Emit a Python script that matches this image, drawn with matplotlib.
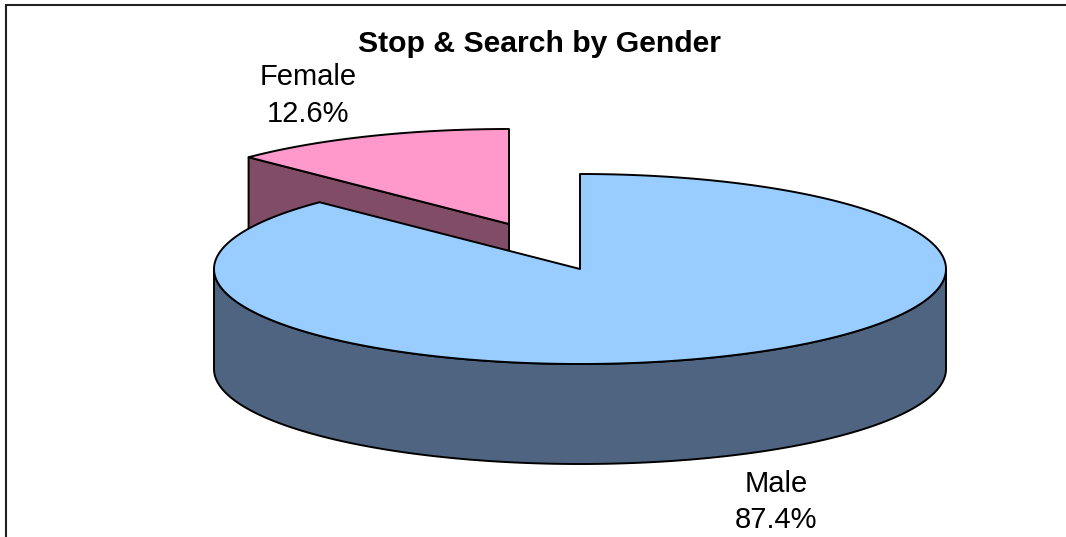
import numpy as np
import matplotlib
matplotlib.use('Agg')
import matplotlib.pyplot as plt

plt.rcParams['font.family'] = ['Liberation Sans', 'DejaVu Sans']

# donnees
categories = ['Male', 'Female']
shares = [87.4, 12.6]
title = 'Stop & Search by Gender'

W, H = 1066, 537
rx, ry = 366, 95
depth = 100
male_c = (580, 269)
female_c = (509, 224)
ec = '#000000'
lw = 1.4


def arc(c, a0, a1, n=200, dy=0):
    # angles en degres, 0 = midi, sens horaire
    t = np.radians(np.linspace(a0, a1, n))
    return np.column_stack([c[0] + rx * np.sin(t), c[1] - ry * np.cos(t) + dy])


fig = plt.figure(figsize=(W / 100, H / 100), dpi=100)
ax = fig.add_axes([0, 0, 1, 1])
ax.set_xlim(0, W)
ax.set_ylim(H, 0)
ax.axis('off')

male_end = shares[0] / sum(shares) * 360

# tranche femme : face interne puis dessus
edge = arc(female_c, male_end, male_end, n=1)[0]
inner = [edge, female_c, (female_c[0], female_c[1] + depth), (edge[0], edge[1] + depth)]
ax.fill(*zip(*inner), fc='#804C66', ec=ec, lw=lw, joinstyle='round')
top_f = np.vstack([[female_c], arc(female_c, male_end, 360)])
ax.fill(top_f[:, 0], top_f[:, 1], fc='#FF99CC', ec=ec, lw=lw, joinstyle='round')

# tranche homme : paroi puis dessus
wall = np.vstack([arc(male_c, 90, 270), arc(male_c, 270, 90, dy=depth)])
ax.fill(wall[:, 0], wall[:, 1], fc='#4F6480', ec=ec, lw=lw, joinstyle='round')
top_m = np.vstack([[male_c], arc(male_c, 0, male_end, n=400)])
ax.fill(top_m[:, 0], top_m[:, 1], fc='#99CCFF', ec=ec, lw=lw, joinstyle='round')

# textes
ax.text(540, 44, title, ha='center', va='center', fontsize=21.7, fontweight='bold', color='black')
ax.text(776, 502, f'{categories[0]}\n{shares[0]:.1f}%', ha='center', va='center', fontsize=21, color='black', linespacing=1.4)
ax.text(308, 95.5, f'{categories[1]}\n{shares[1]:.1f}%', ha='center', va='center', fontsize=21, color='black', linespacing=1.4)

# cadre (coupe a droite et en bas)
ax.plot([6, 6, W], [H, 5, 5], color='#222222', lw=1.5, solid_joinstyle='miter')

fig.savefig('out.png', dpi=100)
plt.close()
